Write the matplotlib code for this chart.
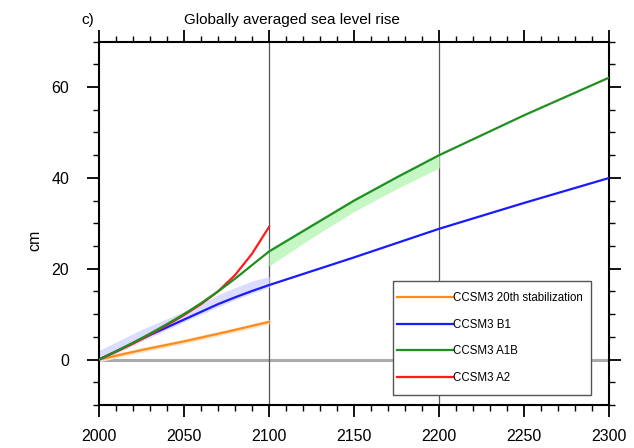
import matplotlib
matplotlib.use("Agg")
import matplotlib.pyplot as plt
from matplotlib.patches import Rectangle
from matplotlib.ticker import MultipleLocator

plt.rcParams['font.family'] = ['Liberation Sans', 'DejaVu Sans']

# 20th century stabilization (orange)
yr_stab = [2000, 2025, 2050, 2075, 2100]
sl_stab = [0.0, 2.1, 4.0, 6.1, 8.3]
stab_lo = [-0.5, 1.6, 3.5, 5.6, 7.8]
stab_hi = [0.5, 2.6, 4.5, 6.6, 8.8]

# B1 (blue)
yr_b1 = [2000, 2010, 2020, 2030, 2040, 2050, 2060, 2070, 2080, 2090, 2100,
         2150, 2200, 2250, 2300]
sl_b1 = [0.0, 1.8, 3.6, 5.4, 7.1, 8.8, 10.5, 12.2, 13.7, 15.1, 16.4,
         22.5, 28.8, 34.5, 40.0]
yr_b1_band = [2000, 2025, 2050, 2075, 2090, 2100]
b1_lo = [-0.5, 4.0, 8.3, 12.4, 14.6, 15.9]
b1_hi = [2.0, 6.6, 10.6, 15.1, 17.3, 18.3]

# A1B (green)
yr_a1b = [2000, 2010, 2020, 2030, 2040, 2050, 2060, 2070, 2080, 2090, 2100,
          2125, 2150, 2175, 2200, 2250, 2300]
sl_a1b = [0.0, 1.8, 3.7, 5.7, 7.8, 10.0, 12.4, 15.0, 17.8, 20.8, 23.8,
          29.4, 35.0, 40.1, 45.0, 53.8, 62.1]
yr_a1b_band = [2100, 2125, 2150, 2175, 2200]
a1b_lo = [20.6, 26.8, 32.6, 37.6, 42.2]
a1b_hi = [24.3, 29.9, 35.5, 40.5, 45.5]

# A2 (red)
yr_a2 = [2000, 2010, 2020, 2030, 2040, 2050, 2060, 2070, 2080, 2090, 2100]
sl_a2 = [0.0, 1.7, 3.5, 5.5, 7.6, 9.8, 12.2, 15.0, 18.6, 23.3, 29.2]

fig = plt.figure(figsize=(6.34, 4.48), dpi=100)
ax = fig.add_axes([0.156, 0.096, 0.805, 0.811])

ax.axhline(0, color='#aaaaaa', lw=2.2, zorder=1)
ax.axvline(2100, color='#555555', lw=0.9, zorder=1)
ax.axvline(2200, color='#555555', lw=0.9, zorder=1)

ax.fill_between(yr_stab, stab_lo, stab_hi, color='#ffe4c8', lw=0, zorder=2)
ax.fill_between(yr_b1_band, b1_lo, b1_hi, color='#dcdcff', lw=0, zorder=2)
ax.fill_between(yr_a1b_band, a1b_lo, a1b_hi, color='#c4f7c4', lw=0, zorder=2)

ax.plot(yr_stab, sl_stab, color='#ff8c1a', lw=1.6, label='CCSM3 20th stabilization', zorder=3)
ax.plot(yr_b1, sl_b1, color='#1a1aff', lw=1.6, label='CCSM3 B1', zorder=3)
ax.plot(yr_a1b, sl_a1b, color='#1f8f1f', lw=1.6, label='CCSM3 A1B', zorder=4)
ax.plot(yr_a2, sl_a2, color='#ff1a1a', lw=1.6, label='CCSM3 A2', zorder=3)

ax.set_xlim(2000, 2300)
ax.set_ylim(-10, 70)
ax.xaxis.set_major_locator(MultipleLocator(50))
ax.xaxis.set_minor_locator(MultipleLocator(10))
ax.yaxis.set_major_locator(MultipleLocator(20))
ax.yaxis.set_minor_locator(MultipleLocator(5))
ax.tick_params(which='major', direction='out', length=8.5, width=1.3,
               top=True, right=True, labelsize=11.5)
ax.tick_params(axis='x', which='major', pad=9)
ax.tick_params(axis='y', which='major', pad=13)
ax.tick_params(which='minor', direction='out', length=4.5, width=1.0,
               top=True, right=True)
for s in ax.spines.values():
    s.set_linewidth(1.5)

fig.text(35 / 634, 0.464, 'cm', rotation=90, fontsize=11.5, ha='center', va='center')
fig.text(0.461, 0.955, 'Globally averaged sea level rise', fontsize=11, ha='center', va='center')
fig.text(0.129, 0.955, 'c)', fontsize=11, ha='left', va='center')

ax.add_patch(Rectangle((0.576, 0.028), 0.389, 0.314, transform=ax.transAxes,
                       facecolor='white', edgecolor='#555555', lw=1.0, zorder=5))
leg = ax.legend(loc='upper left', bbox_to_anchor=(0.584, 0.310),
                fontsize=8.3, handlelength=4.9, handletextpad=0.0,
                borderpad=0, borderaxespad=0, labelspacing=1.25,
                frameon=False)
leg.set_zorder(6)

fig.savefig('out.png', dpi=100)
